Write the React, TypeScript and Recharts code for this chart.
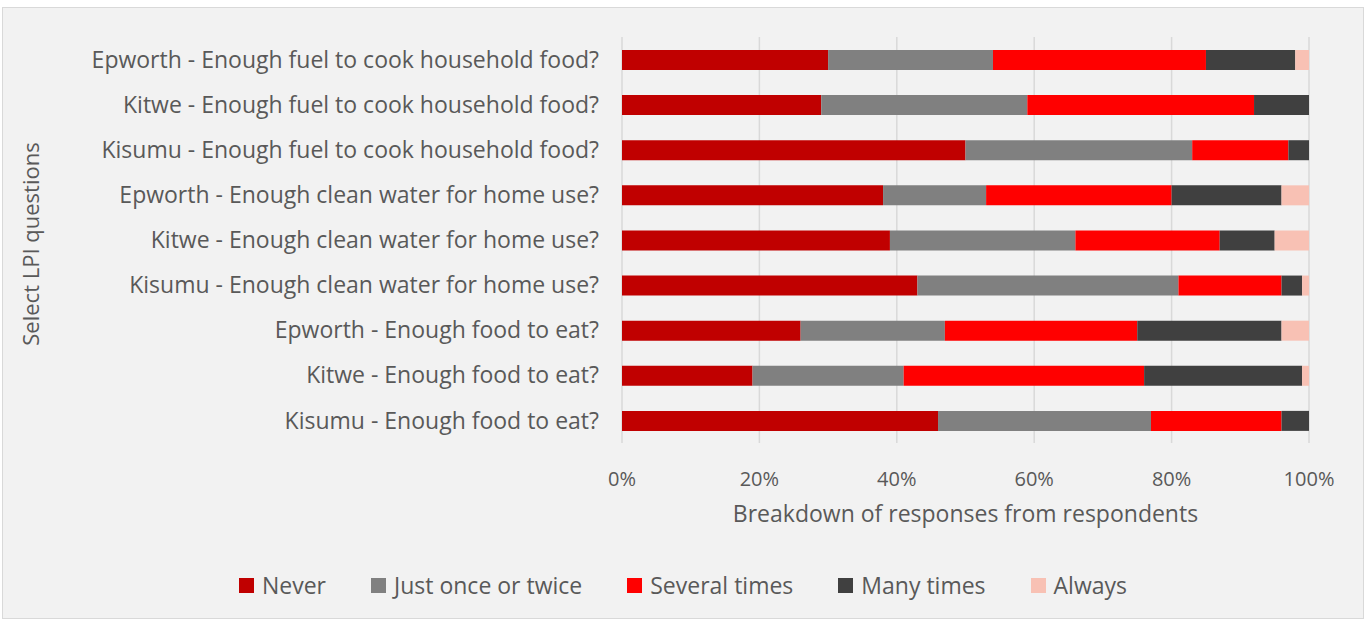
import { BarChart, Bar, XAxis, YAxis, CartesianGrid, Legend } from 'recharts';

const questions = [
  'Epworth - Enough fuel to cook household food?',
  'Kitwe - Enough fuel to cook household food?',
  'Kisumu - Enough fuel to cook household food?',
  'Epworth - Enough clean water for home use?',
  'Kitwe - Enough clean water for home use?',
  'Kisumu - Enough clean water for home use?',
  'Epworth - Enough food to eat?',
  'Kitwe - Enough food to eat?',
  'Kisumu - Enough food to eat?',
];

const never = [30, 29, 50, 38, 39, 43, 26, 19, 46];
const justOnce = [24, 30, 33, 15, 27, 38, 21, 22, 31];
const severalTimes = [31, 33, 14, 27, 21, 15, 28, 35, 19];
const manyTimes = [13, 8, 3, 16, 8, 3, 21, 23, 4];
const always = [2, 0, 0, 4, 5, 1, 4, 1, 0];

const xTicks = [0, 20, 40, 60, 80, 100];

const seriesList = [
  { key: 'never', name: 'Never', color: '#c00000' },
  { key: 'justOnce', name: 'Just once or twice', color: '#808080' },
  { key: 'severalTimes', name: 'Several times', color: '#ff0000' },
  { key: 'manyTimes', name: 'Many times', color: '#404040' },
  { key: 'always', name: 'Always', color: '#f8c1b4' },
];

const data = questions.map((q, i) => ({
  question: q,
  never: never[i],
  justOnce: justOnce[i],
  severalTimes: severalTimes[i],
  manyTimes: manyTimes[i],
  always: always[i],
}));

const FONT = '"Open Sans", sans-serif';
const TEXT = '#595959';

function LegendContent() {
  return (
    <div style={{ display: 'flex', justifyContent: 'center', gap: 45, fontFamily: FONT, fontSize: 23, color: TEXT }}>
      {seriesList.map((s) => (
        <div key={s.key} style={{ display: 'flex', alignItems: 'center' }}>
          <span style={{ width: 15, height: 15, background: s.color, display: 'inline-block', marginRight: 8 }} />
          {s.name}
        </div>
      ))}
    </div>
  );
}

export default function App() {
  return (
    <div style={{ position: 'absolute', left: 0, top: 0, width: 1367, height: 625, background: '#fff' }}>
      <div
        style={{
          position: 'absolute',
          left: 2,
          top: 7,
          width: 1362,
          height: 612,
          background: '#f2f2f2',
          border: '1px solid #d9d9d9',
          boxSizing: 'border-box',
        }}
      >
        <BarChart
          width={1360}
          height={610}
          data={data}
          layout="vertical"
          barSize={20}
          margin={{ top: 29, right: 54, left: 0, bottom: 45 }}
        >
          <CartesianGrid horizontal={false} stroke="#d9d9d9" strokeWidth={1.5} />
          <XAxis
            type="number"
            domain={[0, 100]}
            ticks={xTicks}
            tickFormatter={(v: number) => `${v}%`}
            axisLine={false}
            tickLine={false}
            tickMargin={23}
            height={80}
            tick={{ fontSize: 20, fill: TEXT, fontFamily: FONT }}
            label={{
              value: 'Breakdown of responses from respondents',
              position: 'insideBottom',
              offset: 1,
              style: { fontSize: 23, fill: TEXT, fontFamily: FONT },
            }}
          />
          <YAxis
            type="category"
            dataKey="question"
            width={619}
            axisLine={false}
            tickLine={false}
            tickMargin={17}
            tick={{ fontSize: 23, fill: TEXT, fontFamily: FONT }}
            label={{
              content: () => (
                <text
                  x={30}
                  y={236}
                  transform="rotate(-90 30 236)"
                  textAnchor="middle"
                  dominantBaseline="middle"
                  fontSize={22}
                  fill={TEXT}
                  fontFamily={FONT}
                >
                  Select LPI questions
                </text>
              ),
            }}
          />
          <Legend
            verticalAlign="bottom"
            height={50}
            content={<LegendContent />}
            wrapperStyle={{ top: 561, left: 0, width: 1360 }}
          />
          {seriesList.map((s) => (
            <Bar key={s.key} dataKey={s.key} name={s.name} stackId="a" fill={s.color} isAnimationActive={false} />
          ))}
        </BarChart>
      </div>
    </div>
  );
}
